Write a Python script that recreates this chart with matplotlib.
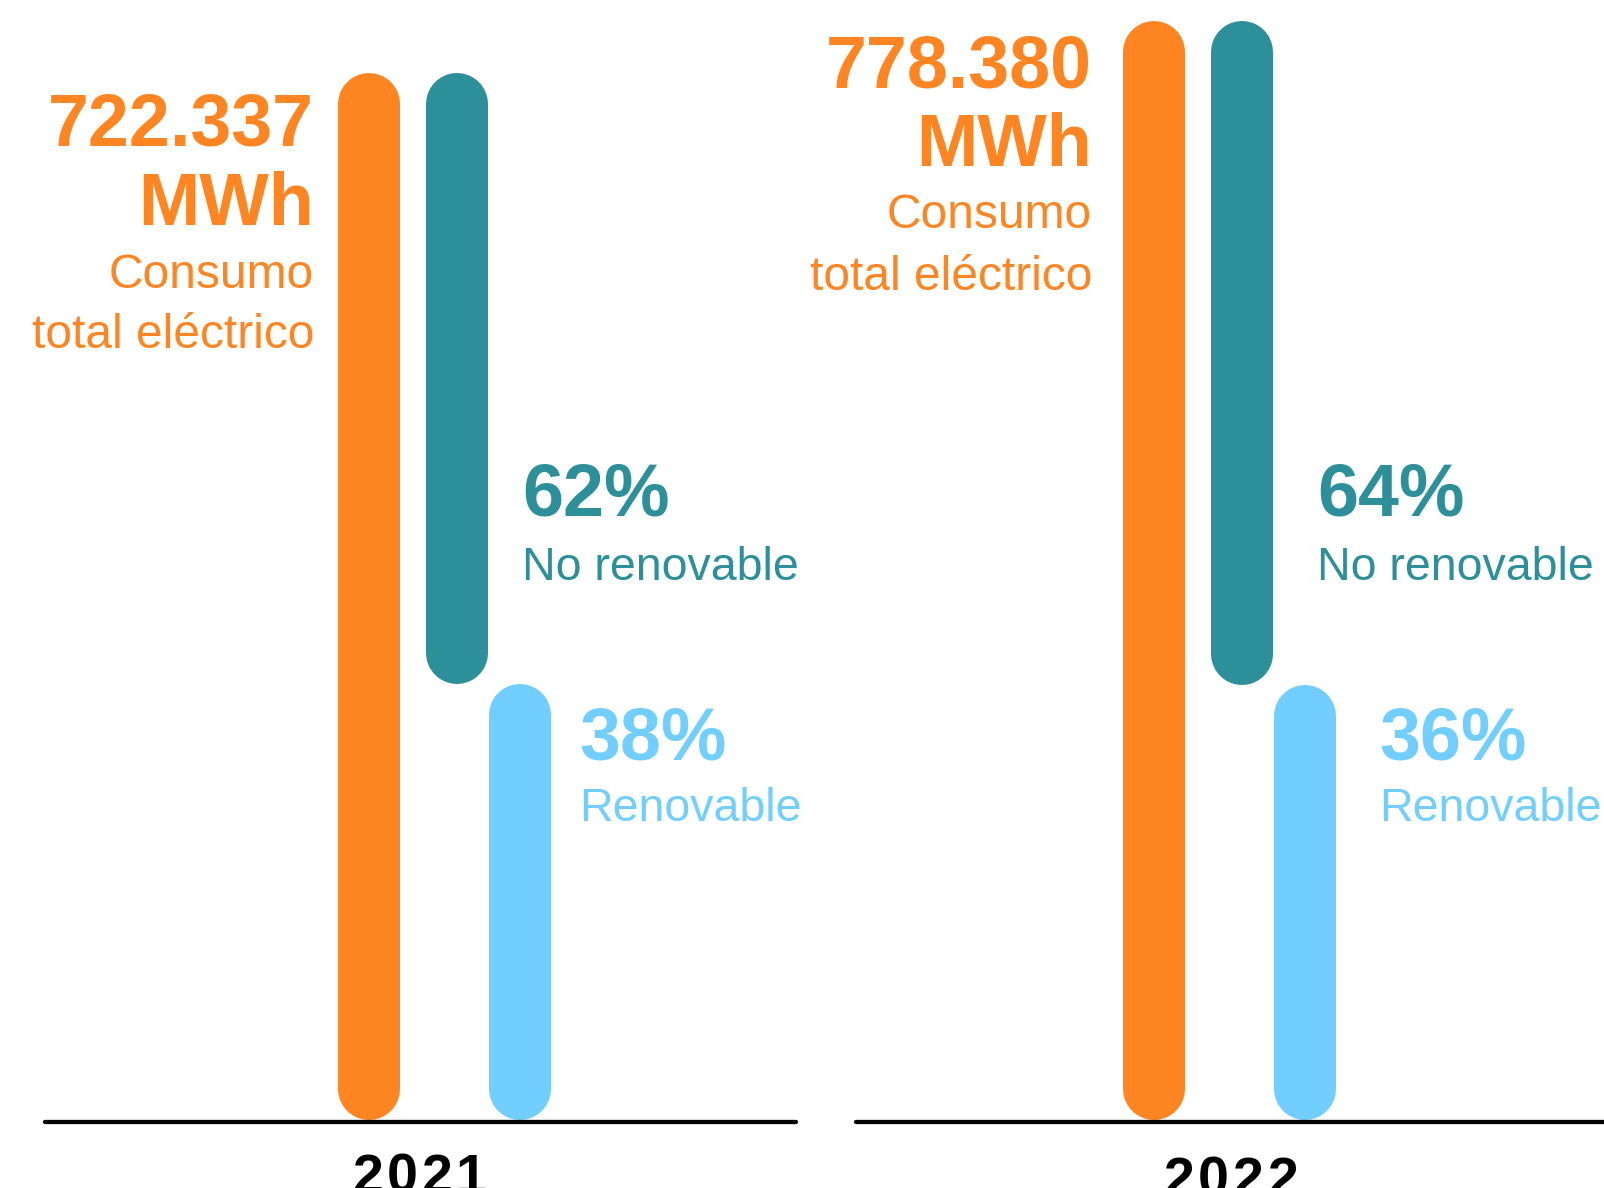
import matplotlib
matplotlib.use('Agg')
import matplotlib.pyplot as plt

years = ['2021', '2022']
total_mwh = [722337, 778380]
no_renovable_pct = [62, 64]
renovable_pct = [38, 36]

ORANGE = '#FF8522'
TEAL = '#2C8F9A'
SKY = '#72CEFF'

W, H = 1604, 1188
fig = plt.figure(figsize=(W / 100, H / 100), dpi=100)

BOLD = ['Liberation Sans', 'DejaVu Sans']
LIGHT = ['Liberation Sans', 'DejaVu Sans']


def px(x, y):
    # pixel position (from top-left) -> figure fraction
    return x / W, 1 - y / H


def label(x, y, s, color, size, weight='normal', ha='left'):
    fig.text(*px(x, y), s, color=color, fontsize=size, fontweight=weight,
             family=BOLD if weight == 'bold' else LIGHT, ha=ha, va='baseline')


bar_w = 62          # px
lw = bar_w * 0.72   # points
base_px = 1089      # y where value 0 sits (line end, cap below)
top_px = [103.6, 51.5]
orange_x = [369, 351.5]
offsets = [0, 88, 151]
panel_left = [0, 802]

for i, year in enumerate(years):
    ax = fig.add_axes([panel_left[i] / W, 0, 802 / W, 1])
    ax.set_axis_off()
    ax.set_xlim(0, 802)
    total = total_mwh[i]
    k = (base_px - top_px[i]) / total
    ax.set_ylim(-(H - base_px) / k, base_px / k)

    ren = total * renovable_pct[i] / 100
    gap = bar_w / k
    x0 = orange_x[i]
    ax.plot([x0, x0], [0, total], color=ORANGE, lw=lw,
            solid_capstyle='round', clip_on=False)
    ax.plot([x0 + offsets[1]] * 2, [ren + gap, total], color=TEAL, lw=lw,
            solid_capstyle='round', clip_on=False)
    ax.plot([x0 + offsets[2]] * 2, [0, ren], color=SKY, lw=lw,
            solid_capstyle='round', clip_on=False)

    # baseline
    y_line = -(1122 - base_px) / k
    x_end = 796 if i == 0 else 820
    x_start = 45 if i == 0 else 54
    ax.plot([x_start, x_end], [y_line, y_line], color='black', lw=3.1,
            solid_capstyle='round', clip_on=True, zorder=5)

# orange totals
tot_x = [314, 1092]
tot_base = [[146, 225, 288.5, 348], [88, 166, 228, 289.5]]
for i in range(2):
    s = f"{total_mwh[i]:,}".replace(',', '.')
    b = tot_base[i]
    label(tot_x[i], b[0], s, ORANGE, 53, 'bold', 'right')
    label(tot_x[i], b[1], 'MWh', ORANGE, 53, 'bold', 'right')
    label(tot_x[i], b[2], 'Consumo', ORANGE, 34.5, ha='right')
    label(tot_x[i], b[3], 'total eléctrico', ORANGE, 34.5, ha='right')

# shares
nr_x = [522, 1317]
rn_x = [579, 1379]
for i in range(2):
    label(nr_x[i], 515, f"{no_renovable_pct[i]}%", TEAL, 53, 'bold')
    label(nr_x[i], 580, 'No renovable', TEAL, 33.5)
    label(rn_x[i], 759, f"{renovable_pct[i]}%", SKY, 53, 'bold')
    label(rn_x[i], 821, 'Renovable', SKY, 33.5)

# year labels, letter-spaced (cut by the bottom edge, as in the original)
year_cx = [419.5, 1230.5]
year_base = [1193, 1196]
pitch = 34.5
for i, year in enumerate(years):
    n = len(year)
    for j, ch in enumerate(year):
        cx = year_cx[i] + (j - (n - 1) / 2) * pitch
        fig.text(*px(cx, year_base[i]), ch, color='black', fontsize=40,
                 fontweight='bold', family=BOLD, ha='center', va='baseline')

fig.savefig('out.png', dpi=100)
